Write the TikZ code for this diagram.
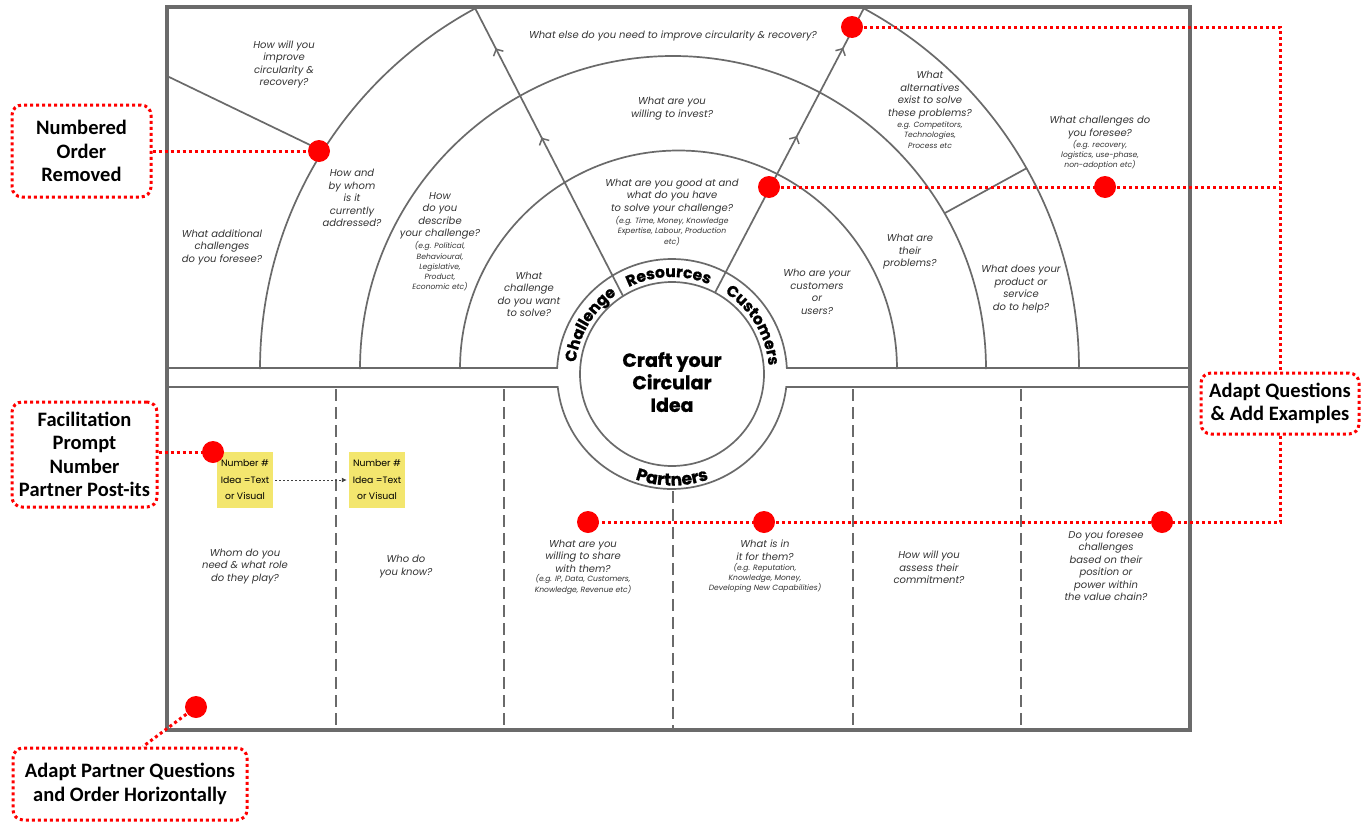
\documentclass[tikz,border=0pt]{standalone}
\usepackage{fontspec}
\setmainfont{Poppins}
\newfontfamily\heavyfont{Poppins}[BoldFeatures={FakeBold=0.9}]
\newfontfamily\calloutfont{Carlito}
\usetikzlibrary{calc,arrows.meta,decorations.text,decorations.markings}

\definecolor{framegray}{HTML}{6B6B6B}
\definecolor{linegray}{HTML}{6A6A6A}
\definecolor{qgray}{HTML}{333333}
\definecolor{flagred}{HTML}{FF0000}
\definecolor{stickyyellow}{HTML}{F3E66E}

\newcommand\qsize{\fontsize{10}{12.5}\selectfont}
\newcommand\esize{\fontsize{7.6}{10.2}\selectfont}
\newcommand\ringfont{\heavyfont\bfseries\fontsize{15.5}{15.5}\selectfont}
\newcommand\partnerfont{\heavyfont\bfseries\fontsize{17}{17}\selectfont}

\tikzset{chev/.tip={Straight Barb[length=5pt,width=11pt,line width=1.5pt]}}

\begin{document}
\begin{tikzpicture}[x=1pt,y=-1pt,
  q/.style={font=\qsize\itshape, text=qgray, align=center, inner sep=0pt},
  qe/.style={font=\esize\itshape, text=qgray, align=center, inner sep=0pt},
  rule/.style={draw=linegray, line width=1.7pt},
  divider/.style={draw=linegray, line width=1.8pt, dash pattern=on 12pt off 6pt},
  flow/.style={rule, postaction={decorate, decoration={markings,
      mark=at position 0.55 with {\arrow[linegray]{chev}},
      mark=at position 0.86 with {\arrow[linegray]{chev}}}}},
  flagline/.style={draw=flagred, line width=3pt, dash pattern=on 3pt off 3pt},
  flagdot/.style={circle, fill=flagred, minimum size=22pt, inner sep=0pt},
  callout/.style={draw=flagred, line width=3pt, dash pattern=on 3pt off 3pt,
      rounded corners=10pt, align=center, inner sep=0pt,
      font=\calloutfont\bfseries\fontsize{20.5}{23.5}\selectfont},
  sticky/.style={fill=stickyyellow, minimum size=56pt, inner sep=0pt, align=center,
      font=\fontsize{9.3}{16.5}\selectfont},
  ringlabel/.style={decorate, decoration={text along path, text align=center, text={|\ringfont|#1}}},
]
\useasboundingbox (0,0) rectangle (1361,822);
\fill[white] (0,0) rectangle (1361,822);

% centre of the ring
\coordinate (hub) at (672,374);

% concentric question arcs, trimmed at the top edge of the frame
\begin{scope}
  \clip (169,9) rectangle (1188,369);
  \draw[rule] (678.5,369) ++(-180:218.5) arc (-180:0:218.5);
  \draw[rule] (673,369) ++(-180:313) arc (-180:0:313);
  \draw[rule] (669.5,369) ++(-180:409.5) arc (-180:0:409.5);
\end{scope}

% ring around the central idea
\draw[rule] (hub) circle[radius=92];
\draw[rule] (167,368) -- ($(hub)+(-177:115)$) arc (-177:-3:115) -- (1190,368);
\draw[rule] (167,387) -- ($(hub)+(173.5:115)$) arc (173.5:6.5:115) -- (1190,387);

% radial flow lines
\coordinate (leftfoot) at (623,296);
\coordinate (lefttop) at (475,8);
\coordinate (rightfoot) at (715,292.6);
\coordinate (righttop) at (864,8);
\draw[flow] (leftfoot) -- (lefttop);
\draw[flow] (rightfoot) -- (righttop);

% short separators
\coordinate (sepAa) at (167,76);
\coordinate (sepAb) at (322.5,151);
\coordinate (sepBa) at (945,213);
\coordinate (sepBb) at (1027,168);
\draw[rule] (sepAa) -- (sepAb);
\draw[rule] (sepBa) -- (sepBb);

% partner columns
\draw[divider] (336,389) -- (336,728);
\draw[divider] (504,389) -- (504,728);
\draw[divider] (673,491) -- (673,728);
\draw[divider] (853,389) -- (853,728);
\draw[divider] (1021,389) -- (1021,728);

% outer frame
\draw[draw=framegray, line width=4pt] (167,7) rectangle (1190,730);

% ring labels
\path[ringlabel=Challenge] ($(hub)+(-177:97)$) arc (-177:-121:97);
\path[ringlabel=Resources] ($(hub)+(-122:97)$) arc (-122:-62:97);
\path[ringlabel=Customers] ($(hub)+(-62:97)$) arc (-62:0:97);
\path[decorate, decoration={text along path, text align=center, text={|\partnerfont|Partners}}]
  ($(hub)+(150:111.5)$) arc (150:30:111.5);

\node[font=\heavyfont\bfseries\fontsize{19}{22.5}\selectfont, align=center, inner sep=0pt] (idea) at (672,382) {Craft your\\Circular\\Idea};

% questions, upper half
\node[q] (q1) at (284,64.5) {How will you\\improve\\circularity \&\\recovery?};
\node[q] (q2) at (352,198) {How and\\by whom\\is it\\currently\\addressed?};
\node[q] (q3) at (222,247) {What additional\\challenges\\do you foresee?};
\node[q] (q4) at (440,216) {How\\do you\\describe\\your challenge?};
\node[qe] (q4e) at (440,266.5) {(e.g. Political,\\Behavioural,\\Legislative,\\Product,\\Economic etc)};
\node[q] (q5) at (529,294.5) {What\\challenge\\do you want\\to solve?};
\node[q] (q6) at (673,36) {What else do you need to improve circularity \& recovery?};
\node[q] (q7) at (672,108.5) {What are you\\willing to invest?};
\node[q] (q8) at (672,196.5) {What are you good at and\\what do you have\\to solve your challenge?};
\node[qe] (q8e) at (672,231) {(e.g. Time, Money, Knowledge\\Expertise, Labour, Production\\etc)};
\node[q] (q9) at (930,95) {What\\alternatives\\exist to solve\\these problems?};
\node[qe] (q9e) at (930,135) {e.g. Competitors,\\Technologies,\\Process etc};
\node[q] (q10) at (1100,127.5) {What challenges do\\you foresee?};
\node[qe] (q10e) at (1100,155) {(e.g. recovery,\\logistics, use-phase,\\non-adoption etc)};
\node[q] (q11) at (910,252) {What are\\their\\problems?};
\node[q] (q12) at (817,292) {Who are your\\customers\\or\\users?};
\node[q] (q13) at (1021,289) {What does your\\product or\\service\\do to help?};

% questions, partner columns
\node[q] (p1) at (245,566.5) {Whom do you\\need \& what role\\do they play?};
\node[q] (p2) at (406,566.5) {Who do\\you know?};
\node[q] (p3) at (583,556) {What are you\\willing to share\\with them?};
\node[qe] (p3e) at (583,584.5) {(e.g. IP, Data, Customers,\\Knowledge, Revenue etc)};
\node[q] (p4) at (765,550) {What is in\\it for them?};
\node[qe] (p4e) at (765,578) {(e.g. Reputation,\\Knowledge, Money,\\Developing New Capabilities)};
\node[q] (p5) at (929,567.5) {How will you\\assess their\\commitment?};
\node[q] (p6) at (1106,565.5) {Do you foresee\\challenges\\based on their\\position or\\power within\\the value chain?};

% partner post-its
\node[sticky] (s1) at (245,480) {Number \#\\Idea =Text\\or Visual};
\node[sticky] (s2) at (377,480) {Number \#\\Idea =Text\\or Visual};
\draw[draw=black!75, line width=0.9pt, dash pattern=on 2pt off 2pt, shorten <=2pt, shorten >=2pt,
      -{Latex[length=5pt,width=5pt]}] (s1.east) -- (s2.west);

% annotation boxes
\node[callout, minimum width=139pt, minimum height=92pt] (bxA) at (81.5,151) {Numbered\\Order\\Removed};
\node[callout, minimum width=145pt, minimum height=105pt] (bxB) at (84.5,454.5) {Facilitation\\Prompt\\Number\\Partner Post-its};
\node[callout, minimum width=158pt, minimum height=61pt] (bxC) at (1280,403.5) {Adapt Questions\\\& Add Examples};
\node[callout, minimum width=234pt, minimum height=72pt] (bxD) at (130,784) {Adapt Partner Questions\\and Order Horizontally};

% annotation markers
\coordinate (cA) at (319,151);
\coordinate (cB) at (213,452);
\coordinate (cC) at (852,27);
\coordinate (cD) at (769,187);
\coordinate (cE) at (1105,187);
\coordinate (cF) at (588,522);
\coordinate (cG) at (764,522);
\coordinate (cH) at (1162,522);
\coordinate (cI) at (196,707);

\draw[flagline] (bxA.east |- cA) -- (cA);
\draw[flagline] (bxB.east |- cB) -- (cB);
\draw[flagline] (cC) -| (bxC.north);
\draw[flagline] (cD) -- (cD -| bxC.north);
\draw[flagline] (bxC.south) |- (cF);
\draw[flagline] (cI) -- ($(bxD.north)+(13,0)$);

\foreach \c/\n in {cA/dA,cB/dB,cC/dC,cD/dD,cE/dE,cF/dF,cG/dG,cH/dH,cI/dI}
  \node[flagdot] (\n) at (\c) {};
\end{tikzpicture}
\end{document}
